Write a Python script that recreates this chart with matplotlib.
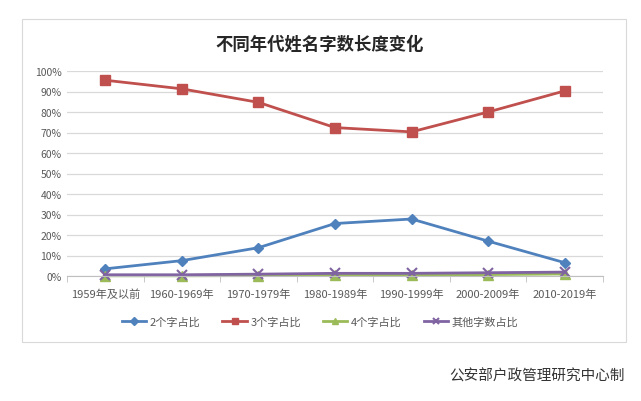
import matplotlib.pyplot as plt
import matplotlib.patches as patches
from matplotlib.ticker import FuncFormatter

plt.rcParams['font.family'] = ['Noto Sans CJK SC', 'DejaVu Sans']

decades = ['1959年及以前', '1960-1969年', '1970-1979年', '1980-1989年',
           '1990-1999年', '2000-2009年', '2010-2019年']
two_char = [3.5, 7.5, 13.8, 25.6, 27.8, 17.0, 6.5]
three_char = [95.5, 91.3, 84.7, 72.4, 70.3, 80.0, 90.3]
four_char = [0.1, 0.1, 0.2, 0.4, 0.4, 0.7, 1.0]
other_char = [0.6, 0.6, 0.9, 1.3, 1.3, 1.6, 1.9]

fig = plt.figure(figsize=(6.41, 4.02), dpi=100)
fig.patches.append(patches.Rectangle((22 / 641, 1 - 343 / 402), 604 / 641, 323 / 402,
                                     transform=fig.transFigure, facecolor='white',
                                     edgecolor='#d9d9d9', linewidth=0.8, zorder=-5))
ax = fig.add_axes([67 / 641, 1 - 277 / 402, 536 / 641, 205 / 402])
ax.set_facecolor('none')

x = range(len(decades))
ax.plot(x, two_char, color='#4F81BD', lw=2, marker='D', ms=5.5, label='2个字占比', clip_on=False)
ax.plot(x, three_char, color='#C0504D', lw=2, marker='s', ms=6.5, label='3个字占比', clip_on=False)
ax.plot(x, four_char, color='#9BBB59', lw=2, marker='^', ms=7, label='4个字占比', clip_on=False)
ax.plot(x, other_char, color='#8064A2', lw=2, marker='x', ms=6.5, mew=1.5,
        label='其他字数占比', clip_on=False)

ax.set_xlim(-0.5, len(decades) - 0.5)
ax.set_ylim(0, 100)
ax.set_yticks(range(0, 101, 10))
ax.yaxis.set_major_formatter(FuncFormatter(lambda v, p: f'{v:.0f}%'))
ax.set_xticks(list(x))
ax.set_xticklabels(decades)
ax.set_xticks([i - 0.5 for i in range(len(decades) + 1)], minor=True)
ax.tick_params(axis='x', which='major', length=0, pad=9, labelsize=8, colors='#595959')
ax.tick_params(axis='x', which='minor', length=4, color='#bfbfbf')
ax.tick_params(axis='y', length=0, pad=4, labelsize=7.5, colors='#595959')
ax.grid(axis='y', color='#d9d9d9', lw=0.9)
ax.set_axisbelow(True)
for s in ['top', 'right', 'left']:
    ax.spines[s].set_visible(False)
ax.spines['bottom'].set_color('#bfbfbf')

fig.text(320 / 641, 1 - 45 / 402, '不同年代姓名字数长度变化', ha='center', va='center',
         fontsize=12.5, fontweight='bold', color='#262626')
fig.legend(loc='center', bbox_to_anchor=(320 / 641, 1 - 323 / 402), ncol=4, frameon=False,
           fontsize=8, labelcolor='#595959', handlelength=2.2, handletextpad=0.3,
           columnspacing=2.0, markerscale=0.7)
fig.text(625 / 641, 1 - 377 / 402, '公安部户政管理研究中心制', ha='right', va='center',
         fontsize=10.5, color='#333333')

fig.savefig('out.png', dpi=100)
